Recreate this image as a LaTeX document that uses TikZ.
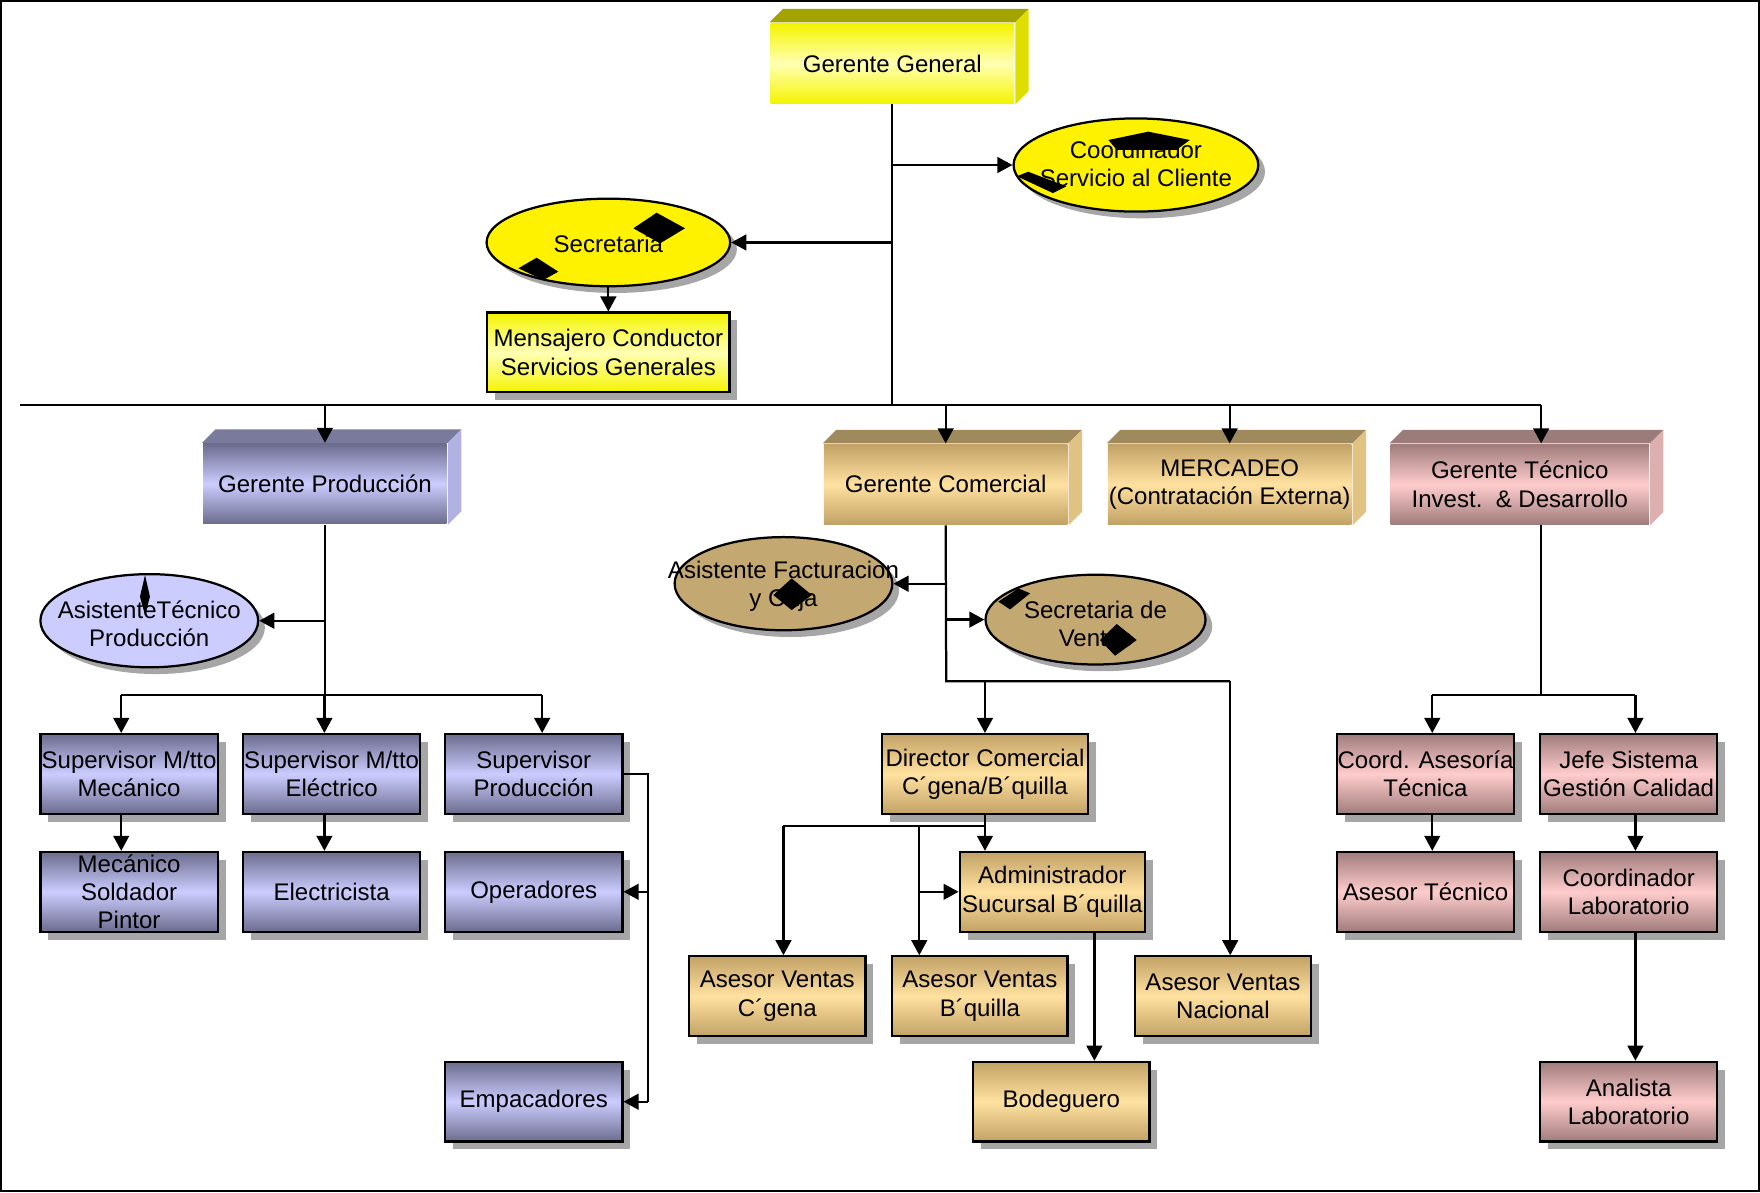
\documentclass[tikz,border=0pt]{standalone}
\usepackage{fontspec}
\setsansfont{Liberation Sans}
\usetikzlibrary{arrows.meta, shapes.geometric, shadows}

\definecolor{yelface}{HTML}{F4F400}
\definecolor{yelpale}{HTML}{FFFFB4}
\definecolor{yeltop}{HTML}{A3A300}
\definecolor{yelside}{HTML}{DEDE00}
\definecolor{lavdark}{HTML}{6C6C8E}
\definecolor{lavpale}{HTML}{CCCCFF}
\definecolor{lavtop}{HTML}{7A7A9C}
\definecolor{lavside}{HTML}{B2B2E2}
\definecolor{tandark}{HTML}{C2A266}
\definecolor{tanpale}{HTML}{FFE1A0}
\definecolor{tantop}{HTML}{9E8A5C}
\definecolor{tanside}{HTML}{E0C282}
\definecolor{tanoval}{HTML}{C4A872}
\definecolor{rosedark}{HTML}{A07C7C}
\definecolor{rosepale}{HTML}{FFCCCC}
\definecolor{rosetop}{HTML}{9C7B7B}
\definecolor{roseside}{HTML}{DDB0B0}

\begin{document}
\begin{tikzpicture}[font=\sffamily\fontsize{10.7}{12.6}\selectfont, x=0.5pt, y=-0.5pt,
    line width=1pt, >={Triangle[length=6.7pt, width=7pt]},
    face/.style={rectangle, inner sep=0pt, align=center, minimum width=108.5pt, minimum height=35.5pt},
    card/.style={rectangle, draw, inner sep=0pt, align=center, minimum width=79pt, minimum height=35.5pt,
        drop shadow={shadow xshift=3.5pt, shadow yshift=-3.5pt, fill=black!35, opacity=1}},
    oval/.style={ellipse, draw, inner sep=0pt, minimum width=97pt, minimum height=41.5pt,
        drop shadow={shadow xshift=3pt, shadow yshift=-3pt, fill=black!35, opacity=1}},
    ovaltext/.style={align=center, inner sep=0pt},
    yelgrad/.style={top color=yelface, bottom color=yelface, middle color=yelpale},
    lavgrad/.style={top color=lavdark, bottom color=lavdark, middle color=lavpale},
    tangrad/.style={top color=tandark, bottom color=tandark, middle color=tanpale},
    rosegrad/.style={top color=rosedark, bottom color=rosedark, middle color=rosepale}]

    \useasboundingbox (0, 0) rectangle (1568, 1062);
    \draw (1, 1) rectangle (1567, 1061);

    % Top: Gerente General and his staff
    \node (gg) at (795, 56.5) [face, yelgrad] {Gerente General};
    \fill[yeltop] (gg.north west) -- ++(12, -12) -- ([shift={(12, -12)}]gg.north east) -- (gg.north east) -- cycle;
    \fill[yelside] (gg.north east) -- ++(12, -12) -- ([shift={(12, -12)}]gg.south east) -- (gg.south east) -- cycle;

    \node (coord) at (1012, 147) [oval, fill=yellow, minimum width=109pt] {};
    \node (coord-t) at (1012, 146) [ovaltext] {Coordinador\\Servicio al Cliente};
    \node (secr) at (542, 216) [oval, fill=yellow, minimum width=108.5pt, minimum height=39pt] {};
    \node (secr-t) at (542, 217) [ovaltext] {Secretaria};
    \node (mens) at (542, 314) [card, yelgrad, minimum width=108pt] {Mensajero Conductor\\Servicios Generales};

    \coordinate (busw) at (18, 361);
    \coordinate (buse) at (1373, 361);
    \draw (busw) -- (buse);
    \draw (gg.south) -- (gg.south |- busw);
    \draw[->] (gg.south |- coord.west) -- (coord.west);
    \draw[->] (gg.south |- secr.east) -- (secr.east);
    \draw[->] (secr.south) -- (mens.north);

    % Second level: the managers
    \node (gp) at (289.5, 431) [face, lavgrad] {Gerente Producción};
    \fill[lavtop] (gp.north west) -- ++(12, -12) -- ([shift={(12, -12)}]gp.north east) -- (gp.north east) -- cycle;
    \fill[lavside] (gp.north east) -- ++(12, -12) -- ([shift={(12, -12)}]gp.south east) -- (gp.south east) -- cycle;

    \node (gc) at (842.5, 431.5) [face, tangrad] {Gerente Comercial};
    \fill[tantop] (gc.north west) -- ++(12, -12) -- ([shift={(12, -12)}]gc.north east) -- (gc.north east) -- cycle;
    \fill[tanside] (gc.north east) -- ++(12, -12) -- ([shift={(12, -12)}]gc.south east) -- (gc.south east) -- cycle;

    \node (merc) at (1095.5, 431.5) [face, tangrad] {MERCADEO\\(Contratación Externa)};
    \fill[tantop] (merc.north west) -- ++(12, -12) -- ([shift={(12, -12)}]merc.north east) -- (merc.north east) -- cycle;
    \fill[tanside] (merc.north east) -- ++(12, -12) -- ([shift={(12, -12)}]merc.south east) -- (merc.south east) -- cycle;

    \node (gt) at (1354, 431.5) [face, rosegrad, minimum width=115pt] {Gerente Técnico\\Invest.\ \ \& Desarrollo};
    \fill[rosetop] (gt.north west) -- ++(12, -12) -- ([shift={(12, -12)}]gt.north east) -- (gt.north east) -- cycle;
    \fill[roseside] (gt.north east) -- ++(12, -12) -- ([shift={(12, -12)}]gt.south east) -- (gt.south east) -- cycle;

    \draw[->] (gp.north |- busw) -- (gp.north);
    \draw[->] (gc.north |- busw) -- (gc.north);
    \draw[->] (merc.north |- busw) -- (merc.north);
    \draw[->] (buse) -- (buse |- gt.north);

    % Produccion branch
    \node (asistp) at (133, 553) [oval, fill=lavpale] {};
    \node (asistp-t) at (133, 556) [ovaltext] {AsistenteTécnico\\Producción};
    \node (supmec) at (115, 689.5) [card, lavgrad] {Supervisor M/tto\\Mecánico};
    \node (supele) at (295.5, 689.5) [card, lavgrad] {Supervisor M/tto\\Eléctrico};
    \node (supprod) at (475.5, 689.5) [card, lavgrad] {Supervisor\\Producción};
    \node (mec) at (115, 794.5) [card, lavgrad] {Mecánico\\Soldador\\Pintor};
    \node (elec) at (295.5, 794.5) [card, lavgrad] {Electricista};
    \node (oper) at (475.5, 794.5) [card, lavgrad] {Operadores};
    \node (emp) at (475.5, 981.5) [card, lavgrad] {Empacadores};

    \coordinate (pm) at (108, 619);
    \coordinate (pe) at (289, 619);
    \coordinate (pp) at (483, 619);
    \coordinate (pr) at (577, 981.5);
    \draw (gp.south) -- (gp.south |- pe);
    \draw[->] (gp.south |- asistp.east) -- (asistp.east);
    \draw (pm) -- (pp);
    \draw[->] (pm) -- (pm |- supmec.north);
    \draw[->] (pe) -- (pe |- supele.north);
    \draw[->] (pp) -- (pp |- supprod.north);
    \draw[->] (pm |- supmec.south) -- (pm |- mec.north);
    \draw[->] (pe |- supele.south) -- (pe |- elec.north);
    \draw (supprod.east) -| (pr);
    \draw[->] (oper.east -| pr) -- (oper.east);
    \draw[->] (pr) -- (emp.east);

    % Comercial branch
    \node (asistf) at (698, 520) [oval, fill=tanoval] {};
    \node (asistf-t) at (698, 522) [ovaltext] {Asistente Facturacion\\y Caja};
    \node (secv) at (976, 552) [oval, fill=tanoval, minimum width=98pt, minimum height=40pt] {};
    \node (secv-t) at (976, 556) [ovaltext] {Secretaria de\\Ventas};
    \node (dirc) at (877.5, 689.5) [card, tangrad, minimum width=91.5pt] {Director Comercial\\C´gena/B´quilla};
    \node (admin) at (937.5, 794.5) [card, tangrad, minimum width=82.5pt] {Administrador\\Sucursal B´quilla};
    \node (avc) at (692.5, 887.5) [card, tangrad, minimum width=78.5pt] {Asesor Ventas\\C´gena};
    \node (avb) at (873, 887.5) [card, tangrad, minimum width=78pt] {Asesor Ventas\\B´quilla};
    \node (avn) at (1089.5, 887.5) [card, tangrad, minimum width=78.5pt] {Asesor Ventas\\Nacional};
    \node (bod) at (945.5, 981.5) [card, tangrad, minimum width=78.5pt] {Bodeguero};

    \coordinate (cb) at (843, 607);
    \coordinate (cn) at (1096, 607);
    \coordinate (dl) at (698, 736);
    \coordinate (dm) at (819, 736);
    \draw (gc.south) -- (cb) -- (cn);
    \draw[->] (gc.south |- asistf.east) -- (asistf.east);
    \draw[->] (gc.south |- secv.west) -- (secv.west);
    \draw[->] (dirc.north |- cb) -- (dirc.north);
    \draw[->] (cn) -- (cn |- avn.north);
    \draw (dirc.south) -- (dirc.south |- dl) -- (dl);
    \draw[->] (dirc.south |- dl) -- (dirc.south |- admin.north);
    \draw[->] (dl) -- (dl |- avc.north);
    \draw[->] (dm) -- (dm |- avb.north);
    \draw[->] (dm |- admin.west) -- (admin.west);
    \draw[->] ([xshift=18.75pt]admin.south) -- ([xshift=18.75pt]admin.south |- bod.north);

    % Tecnico branch
    \node (coordas) at (1270, 689.5) [card, rosegrad] {Coord. Asesoría\\Técnica};
    \node (jefe) at (1451, 689.5) [card, rosegrad] {Jefe Sistema\\Gestión Calidad};
    \node (asesort) at (1270, 794.5) [card, rosegrad] {Asesor Técnico};
    \node (coordlab) at (1451, 794.5) [card, rosegrad] {Coordinador\\Laboratorio};
    \node (analista) at (1451, 981.5) [card, rosegrad] {Analista\\Laboratorio};

    \coordinate (ta) at (1276, 619);
    \coordinate (tj) at (1457, 619);
    \draw (buse |- gt.south) -- (buse |- ta);
    \draw (ta) -- (tj);
    \draw[->] (ta) -- (ta |- coordas.north);
    \draw[->] (tj) -- (tj |- jefe.north);
    \draw[->] (ta |- coordas.south) -- (ta |- asesort.north);
    \draw[->] (tj |- jefe.south) -- (tj |- coordlab.north);
    \draw[->] (tj |- coordlab.south) -- (tj |- analista.north);

    % black specks left on the ovals
    \fill (987.5, 124.7) -- (1023, 117.3) -- (1060, 124.7) -- (1048, 133.6) -- (995, 133.6) -- cycle;
    \fill (906, 157) -- (916, 153) -- (950, 166) -- (938, 172) -- cycle;
    \fill (564.3, 203.4) -- (585, 189.5) -- (610.3, 203.4) -- (588, 216.8) -- cycle;
    \fill (461.8, 239) -- (478.1, 229.6) -- (497.4, 242) -- (484, 249.5) -- cycle;
    \fill (124.7, 531.6) -- (129.2, 512.3) -- (133.6, 531.6) -- (129.2, 548) -- cycle;
    \fill (689, 530.1) -- (705.3, 515.3) -- (723.2, 530.1) -- (705.3, 543.5) -- cycle;
    \fill (980, 570.2) -- (994.9, 555.9) -- (1012.7, 570.2) -- (993.4, 584.2) -- cycle;
    \fill (889.4, 536) -- (907.3, 524.2) -- (917.7, 528.6) -- (899.9, 542.9) -- cycle;

\end{tikzpicture}
\end{document}
